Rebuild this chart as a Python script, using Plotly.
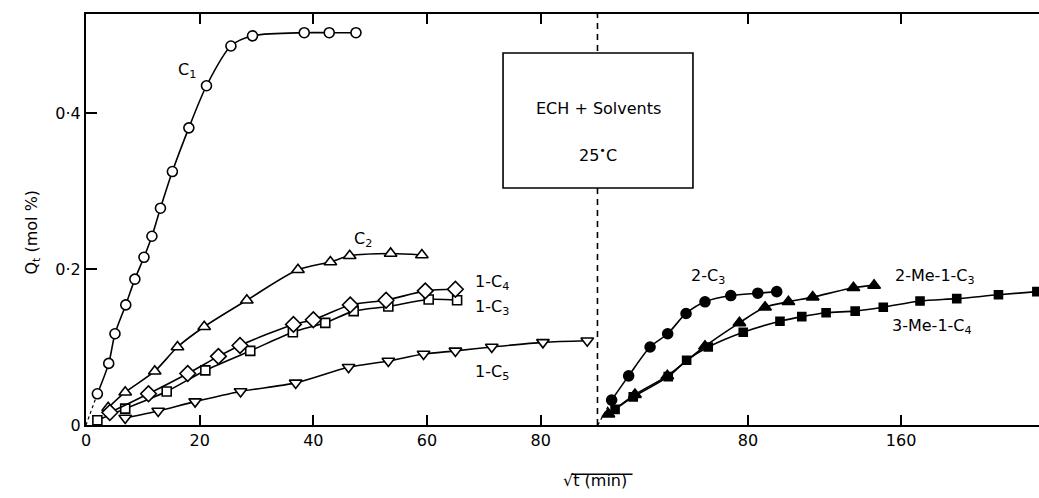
import plotly.graph_objects as go

# ---------------- data (left panel: sqrt(t) 0..90) ----------------
c1_x = [2.0, 4.0, 5.1, 7.0, 8.6, 10.2, 11.6, 13.1, 15.2, 18.1, 21.2, 25.5, 29.3, 38.4, 42.8, 47.5]
c1_y = [0.040, 0.079, 0.117, 0.154, 0.187, 0.215, 0.242, 0.278, 0.325, 0.381, 0.435, 0.486, 0.499, 0.503, 0.503, 0.503]

c2_x = [3.9, 6.9, 12.1, 16.1, 20.8, 28.3, 37.3, 43.0, 46.4, 53.6, 59.1]
c2_y = [0.022, 0.042, 0.069, 0.100, 0.126, 0.160, 0.199, 0.209, 0.217, 0.220, 0.218]

c14_x = [4.2, 11.0, 17.9, 23.3, 27.1, 36.5, 40.0, 46.5, 52.8, 59.7, 65.0]
c14_y = [0.016, 0.040, 0.066, 0.088, 0.102, 0.129, 0.135, 0.154, 0.160, 0.172, 0.174]

c13_x = [2.0, 6.9, 14.2, 21.0, 28.9, 36.4, 42.1, 47.1, 53.2, 60.3, 65.3]
c13_y = [0.006, 0.021, 0.043, 0.070, 0.095, 0.119, 0.131, 0.146, 0.152, 0.161, 0.160]

c15_x = [6.9, 12.7, 19.2, 27.2, 36.9, 46.2, 53.2, 59.4, 65.0, 71.4, 80.4, 88.2]
c15_y = [0.009, 0.018, 0.030, 0.043, 0.054, 0.074, 0.082, 0.091, 0.095, 0.100, 0.106, 0.108]

# ---------------- data (right panel) ----------------
c23_x = [8.7, 17.6, 28.8, 38.0, 47.6, 57.5, 71.0, 85.1, 95.0]
c23_y = [0.032, 0.063, 0.100, 0.117, 0.143, 0.158, 0.166, 0.169, 0.171]

me2_x = [7.0, 20.9, 37.8, 57.5, 75.5, 88.9, 101.1, 113.8, 135.1, 145.9]
me2_y = [0.014, 0.039, 0.063, 0.101, 0.131, 0.151, 0.158, 0.164, 0.176, 0.179]

me3_x = [10.5, 20.0, 38.3, 47.9, 59.2, 77.5, 96.7, 108.1, 120.8, 136.0, 150.7, 169.9, 189.1, 210.9, 231.0]
me3_y = [0.020, 0.036, 0.062, 0.083, 0.100, 0.119, 0.133, 0.139, 0.144, 0.146, 0.151, 0.159, 0.162, 0.167, 0.171]

y_ticks = [0, 0.2, 0.4]
y_ticktext = ["0", "0·2", "0·4"]
x_ticks_left = [0, 20, 40, 60, 80]
x_ticks_right = [80, 160]

FONT = "DejaVu Sans"
BLACK = "black"

fig = go.Figure()


def add_series(x, y, symbol, xaxis, filled=False, size=10):
    fig.add_trace(go.Scatter(
        x=x, y=y, xaxis=xaxis, yaxis="y",
        mode="lines+markers",
        line=dict(color=BLACK, width=1.6, shape="spline", smoothing=0.8),
        marker=dict(symbol=symbol, size=size,
                    color=BLACK if filled else "white",
                    line=dict(color=BLACK, width=1.6)),
        showlegend=False, cliponaxis=False,
    ))


def add_origin_dash(x, y, xaxis, x0):
    fig.add_trace(go.Scatter(
        x=[x0, x[0]], y=[0, y[0]], xaxis=xaxis, yaxis="y",
        mode="lines", line=dict(color=BLACK, width=1.2, dash="3px,3px"),
        showlegend=False,
    ))


add_origin_dash(c1_x, c1_y, "x", 0)
add_origin_dash(c23_x, c23_y, "x2", 1.5)

add_series(c1_x, c1_y, "circle", "x", size=10)
add_series(c2_x, c2_y, "triangle-up", "x", size=11)
add_series(c13_x, c13_y, "square", "x", size=9)
add_series(c14_x, c14_y, "diamond", "x", size=12)
add_series(c15_x, c15_y, "triangle-down", "x", size=11)

add_series(me3_x, me3_y, "square", "x2", filled=True, size=8)
add_series(me2_x, me2_y, "triangle-up", "x2", filled=True, size=11)
add_series(c23_x, c23_y, "circle", "x2", filled=True, size=10)

split = 0.5367
axis_common = dict(
    showline=True, linecolor=BLACK, linewidth=2, mirror="ticks",
    ticks="inside", ticklen=10, tickwidth=1.6, tickcolor=BLACK,
    showgrid=False, zeroline=False,
    tickfont=dict(family=FONT, size=16, color=BLACK),
)

fig.update_layout(
    width=1039, height=498,
    margin=dict(l=86, r=0, t=14, b=73),
    paper_bgcolor="white", plot_bgcolor="white",
    font=dict(family=FONT, size=16, color=BLACK),
    xaxis=dict(domain=[0, split], range=[0, 90], tickvals=x_ticks_left,
               anchor="y", **axis_common),
    xaxis2=dict(domain=[split, 1], range=[1.3, 232.1], tickvals=x_ticks_right,
                anchor="y", **axis_common),
    yaxis=dict(range=[0, 0.527], tickvals=y_ticks, ticktext=y_ticktext,
               showline=True, linecolor=BLACK, linewidth=2, mirror=False,
               ticks="inside", ticklen=11, tickwidth=1.6, tickcolor=BLACK,
               showgrid=False, zeroline=False,
               tickfont=dict(family=FONT, size=16, color=BLACK)),
)

# dashed separator and text box
fig.add_shape(type="line", xref="paper", yref="paper", x0=split, x1=split, y0=0, y1=1,
              line=dict(color=BLACK, width=1.6, dash="6px,5px"))
fig.add_shape(type="rect", xref="paper", yref="paper", x0=0.4376, x1=0.6369, y0=0.5766, y1=0.905,
              line=dict(color=BLACK, width=1.6), fillcolor="white", layer="above")

fig.add_annotation(xref="paper", yref="paper", x=0.5373, y=0.799, text="ECH + Solvents",
                   showarrow=False, font=dict(family=FONT, size=16, color=BLACK))
fig.add_annotation(xref="paper", yref="paper", x=0.5373, y=0.689, text="25<sup>•</sup>C",
                   showarrow=False, font=dict(family=FONT, size=16, color=BLACK))

# series labels
labels = [
    ("x", 17.8, 0.455, "C<sub>1</sub>"),
    ("x", 48.7, 0.238, "C<sub>2</sub>"),
    ("x", 71.5, 0.183, "1-C<sub>4</sub>"),
    ("x", 71.5, 0.151, "1-C<sub>3</sub>"),
    ("x", 71.5, 0.067, "1-C<sub>5</sub>"),
    ("x2", 59.1, 0.191, "2-C<sub>3</sub>"),
    ("x2", 177.8, 0.190, "2-Me-1-C<sub>3</sub>"),
    ("x2", 176.2, 0.126, "3-Me-1-C<sub>4</sub>"),
]
for xr, xv, yv, txt in labels:
    fig.add_annotation(xref=xr, yref="y", x=xv, y=yv, text=txt, showarrow=False,
                       font=dict(family=FONT, size=16, color=BLACK))

# axis titles
fig.add_annotation(xref="paper", yref="paper", x=-0.069, y=0.47, textangle=-90,
                   text="Q<sub>t</sub> (mol %)", showarrow=False,
                   font=dict(family=FONT, size=16, color=BLACK))
fig.add_annotation(xref="paper", yref="paper", x=0.534, y=-0.135, yanchor="middle",
                   text="√t (min)", showarrow=False,
                   font=dict(family=FONT, size=16, color=BLACK))
fig.add_shape(type="line", xref="paper", yref="paper", x0=0.5095, x1=0.5735,
              y0=-0.12, y1=-0.12, line=dict(color=BLACK, width=1.4))

fig.write_html("out.html")
